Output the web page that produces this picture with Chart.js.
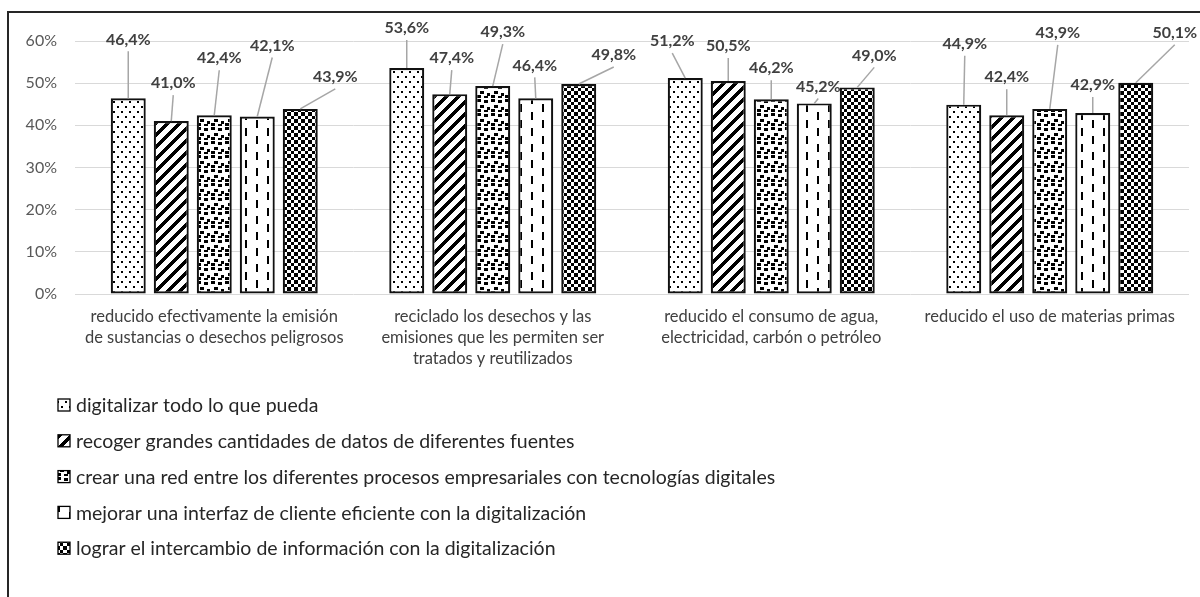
<!DOCTYPE html>
<html>
<head>
<meta charset="utf-8">
<script src="https://cdn.jsdelivr.net/npm/chart.js@4.4.1/dist/chart.umd.min.js"></script>
<style>
  html, body { margin: 0; padding: 0; background: #fff; overflow: hidden; }
  #wrap { position: relative; width: 1200px; height: 597px; }
  #frame {
    position: absolute; left: 7px; top: 11px; width: 1300px; height: 700px;
    border-left: 2px solid #262626; border-top: 2px solid #262626; pointer-events: none;
  }
</style>
</head>
<body>
<div id="wrap">
  <canvas id="chart"></canvas>
  <div id="frame"></div>
</div>
<script>
'use strict';

const categories = [
  ['reducido efectivamente la emisión', 'de sustancias o desechos peligrosos'],
  ['reciclado los desechos y las', 'emisiones que les permiten ser', 'tratados y reutilizados'],
  ['reducido el consumo de agua,', 'electricidad, carbón o petróleo'],
  ['reducido el uso de materias primas'],
];
const seriesNames = [
  'digitalizar todo lo que pueda',
  'recoger grandes cantidades de datos de diferentes fuentes',
  'crear una red entre los diferentes procesos empresariales con tecnologías digitales',
  'mejorar una interfaz de cliente eficiente con la digitalización',
  'lograr el intercambio de información con la digitalización',
];
const digitalizar = [46.4, 53.6, 51.2, 44.9];
const recoger = [41.0, 47.4, 50.5, 42.4];
const crearRed = [42.4, 49.3, 46.2, 43.9];
const interfaz = [42.1, 46.4, 45.2, 42.9];
const intercambio = [43.9, 49.8, 49.0, 50.1];
const yTicks = [0, 10, 20, 30, 40, 50, 60];

// where each value label sits relative to the top of its bar (px), like the hand-moved Excel labels
const labelNudge = [
  [[0, -59], [0, -40], [-13, -37], [1, -61]],
  [[2, -38], [2, -36], [0, -35], [0, -38]],
  [[5, -57], [10, -54], [0, -31], [8, -76]],
  [[15, -71], [-1, -33], [4, -17], [0, -28]],
  [[35, -32], [35, -29], [17, -32], [39, -50]],
];

function tile(w, h, paint) {
  const c = document.createElement('canvas');
  c.width = w;
  c.height = h;
  const g = c.getContext('2d');
  g.fillStyle = '#fff';
  g.fillRect(0, 0, w, h);
  g.fillStyle = '#000';
  paint(g);
  return c;
}

const tiles = [
  // sparse dots
  tile(8, 10, (g) => {
    g.fillRect(1, 1, 2, 2);
    g.fillRect(5, 6, 2, 2);
  }),
  // wide upward diagonal
  tile(12, 12, (g) => {
    for (let x = 0; x < 12; x++)
      for (let y = 0; y < 12; y++) if ((x + y) % 12 < 5) g.fillRect(x, y, 1, 1);
  }),
  // large confetti
  tile(14, 14, (g) => {
    [[1, 1], [8, 2], [4, 7], [11, 9], [1, 11], [8, 12]].forEach(([x, y]) => g.fillRect(x, y, 4, 3));
  }),
  // dashed vertical
  tile(22, 16, (g) => {
    g.fillRect(3, 0, 2, 8);
    g.fillRect(14, 8, 2, 8);
  }),
  // small checkerboard
  tile(7, 7, (g) => {
    g.fillRect(0, 0, 4, 4);
    g.fillRect(4, 4, 3, 3);
  }),
];

const ctx = document.getElementById('chart').getContext('2d');
const patterns = tiles.map((t) => ctx.createPattern(t, 'repeat'));
const seriesValues = [digitalizar, recoger, crearRed, interfaz, intercambio];

const valueLabels = {
  id: 'valueLabels',
  afterDatasetsDraw(chart) {
    const c = chart.ctx;
    c.save();
    c.font = 'bold 16px Lato';
    c.textAlign = 'center';
    c.textBaseline = 'middle';
    chart.data.datasets.forEach((ds, i) => {
      chart.getDatasetMeta(i).data.forEach((bar, j) => {
        const [dx, dy] = labelNudge[i][j];
        const lx = bar.x + dx;
        const ly = bar.y + dy;
        const y0 = ly + 12;
        if (bar.y - y0 > 4) {
          c.strokeStyle = '#a6a6a6';
          c.lineWidth = 1.5;
          c.beginPath();
          c.moveTo(lx, y0);
          c.lineTo(bar.x, bar.y);
          c.stroke();
        }
        c.fillStyle = '#404040';
        c.fillText(ds.data[j].toFixed(1).replace('.', ',') + '%', lx, ly);
      });
    });
    c.restore();
  },
};

// one legend entry per row under the plot
const rowLegend = {
  id: 'rowLegend',
  afterDraw(chart) {
    const c = chart.ctx;
    const top = chart.chartArea.bottom + 111;
    c.save();
    c.font = '19.5px Lato';
    c.textBaseline = 'middle';
    chart.data.datasets.forEach((ds, i) => {
      const y = top + i * 35.8;
      c.fillStyle = ds.backgroundColor;
      c.fillRect(58, y - 6, 12, 12);
      c.strokeStyle = '#000';
      c.lineWidth = 1.3;
      c.strokeRect(58, y - 6, 12, 12);
      c.fillStyle = '#262626';
      c.fillText(ds.label, 76, y + 1);
    });
    c.restore();
  },
};

Chart.defaults.font.family = 'Lato';

new Chart(ctx, {
  type: 'bar',
  data: {
    labels: categories,
    datasets: seriesNames.map((name, i) => ({
      label: name,
      data: seriesValues[i],
      backgroundColor: patterns[i],
      borderColor: '#111',
      borderWidth: 2.2,
      borderSkipped: false,
      categoryPercentage: 0.772,
      barPercentage: 0.814,
    })),
  },
  options: {
    responsive: true,
    maintainAspectRatio: false,
    animation: false,
    layout: { padding: { top: 41, right: 11, left: 0, bottom: 0 } },
    scales: {
      y: {
        min: 0,
        max: 60,
        afterBuildTicks: (scale) => {
          scale.ticks = yTicks.map((v) => ({ value: v }));
        },
        afterFit: (scale) => {
          scale.width = 75;
        },
        ticks: {
          callback: (v) => v + '%',
          color: '#595959',
          padding: 18,
          font: { size: 16 },
        },
        grid: { color: '#d9d9d9', lineWidth: 1, drawTicks: false },
        border: { display: false },
      },
      x: {
        afterFit: (scale) => {
          scale.height = 303;
        },
        ticks: {
          color: '#404040',
          padding: 12,
          font: { size: 16.5, lineHeight: 1.28 },
          maxRotation: 0,
          autoSkip: false,
        },
        grid: { display: false, drawTicks: false },
        border: { display: false },
      },
    },
    plugins: {
      legend: { display: false },
      tooltip: { enabled: false },
    },
  },
  plugins: [valueLabels, rowLegend],
});
</script>
</body>
</html>
